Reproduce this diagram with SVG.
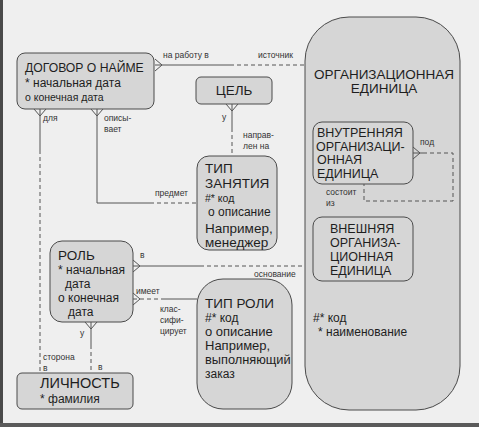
<svg xmlns="http://www.w3.org/2000/svg" width="479" height="427" viewBox="0 0 479 427">
<style>
.bg{fill:#efefef}
.ent{fill:#d6d6d6;stroke:#4a4a4a;stroke-width:1}
.t{font-family:"Liberation Sans",Arial,sans-serif;fill:#1e1e1e}
.h{font-size:13.5px}
.m{font-size:12.5px}
.a{font-size:12px}
.s{font-size:10.5px}
.l{font-size:8.5px;fill:#333}
.ln{fill:none;stroke:#555;stroke-width:1}
.d{stroke-dasharray:4 3}
</style>
<rect class="bg" x="0" y="0" width="479" height="427"/>
<rect x="0" y="0" width="3" height="427" fill="#4a4a4a"/>
<rect x="0" y="423" width="479" height="4" fill="#5a5a5a"/>

<g id="org-unit">
<rect class="ent" x="305" y="17" width="155" height="393" rx="44" ry="44"/>
<text class="t h" x="384" y="79" text-anchor="middle">ОРГАНИЗАЦИОННАЯ</text>
<text class="t h" x="384" y="93" text-anchor="middle">ЕДИНИЦА</text>
<text class="t a" x="313" y="322">#* код</text>
<text class="t a" x="318" y="336">* наименование</text>
</g>

<g id="internal-unit">
<rect class="ent" x="313" y="122" width="100" height="62" rx="9"/>
<text class="t m" x="317" y="137">ВНУТРЕННЯЯ</text>
<text class="t m" x="316" y="150.5">ОРГАНИЗАЦИ-</text>
<text class="t m" x="317" y="164">ОННАЯ</text>
<text class="t m" x="317" y="177.5">ЕДИНИЦА</text>
</g>

<g id="external-unit">
<rect class="ent" x="313" y="217" width="100" height="64" rx="9"/>
<text class="t m" x="330" y="233">ВНЕШНЯЯ</text>
<text class="t m" x="330" y="247">ОРГАНИЗА-</text>
<text class="t m" x="330" y="261">ЦИОННАЯ</text>
<text class="t m" x="330" y="275">ЕДИНИЦА</text>
</g>

<g id="contract">
<rect class="ent" x="17" y="53" width="137" height="56" rx="8"/>
<text class="t" font-size="12.2" x="25" y="72">ДОГОВОР О НАЙМЕ</text>
<text class="t a" x="25" y="87">* начальная дата</text>
<text class="t s" x="25" y="101">о конечная дата</text>
</g>

<g id="goal">
<rect class="ent" x="196" y="77" width="76" height="27" rx="5"/>
<text class="t h" x="234" y="95" text-anchor="middle">ЦЕЛЬ</text>
</g>

<g id="job-type">
<rect class="ent" x="197" y="156" width="80" height="94" rx="12"/>
<text class="t h" x="205" y="173">ТИП</text>
<text class="t h" x="205" y="188">ЗАНЯТИЯ</text>
<text class="t s" x="205" y="202">#* код</text>
<text class="t a" x="208" y="216">о описание</text>
<text class="t h" x="205" y="233">Например,</text>
<text class="t h" x="205" y="247">менеджер</text>
</g>

<g id="role">
<rect class="ent" x="50" y="241" width="83" height="81" rx="12"/>
<text class="t h" x="58" y="260">РОЛЬ</text>
<text class="t a" x="58" y="274">* начальная</text>
<text class="t a" x="65" y="288">дата</text>
<text class="t a" x="58" y="302">о конечная</text>
<text class="t a" x="68" y="316">дата</text>
</g>

<g id="role-type">
<rect class="ent" x="197" y="279" width="95" height="130" rx="26"/>
<text class="t h" x="205" y="308">ТИП РОЛИ</text>
<text class="t a" x="205" y="322">#* код</text>
<text class="t" font-size="13" x="205" y="336">о описание</text>
<text class="t" font-size="13" x="205" y="350">Например,</text>
<text class="t" font-size="12.8" x="205" y="364">выполняющий</text>
<text class="t a" x="205" y="378">заказ</text>
</g>

<g id="person">
<rect class="ent" x="17" y="373" width="116" height="36" rx="5"/>
<text class="t" font-size="14.5" x="40" y="388">ЛИЧНОСТЬ</text>
<text class="t a" x="40" y="403">* фамилия</text>
</g>

<g id="connectors">
<path class="ln" d="M155,59 L162,65 L155,71 M155,65 L230,65"/>
<path class="ln d" d="M230,65 L305,65"/>
<text class="t l" x="163" y="58">на работу в</text>
<text class="t l" x="258" y="58">источник</text>
<path class="ln" d="M34,109 L40,116 L46,109 M40,109 L40,150"/>
<path class="ln d" d="M40,150 L40,373"/>
<text class="t l" x="43" y="121">для</text>
<text class="t l" x="43" y="360">сторона</text>
<text class="t l" x="43" y="371">в</text>
<path class="ln" d="M91,109 L97,116 L103,109 M97,109 L97,203 L150,203"/>
<path class="ln d" d="M150,203 L197,203"/>
<text class="t l" x="104" y="121">описы-</text>
<text class="t l" x="104" y="132">вает</text>
<text class="t l" x="155" y="196">предмет</text>
<path class="ln" d="M226,104 L232,111 L238,104 M232,104 L232,128"/>
<path class="ln d" d="M232,128 L232,156"/>
<text class="t l" x="222" y="120">у</text>
<text class="t l" x="243" y="138">направ-</text>
<text class="t l" x="243" y="149">лен на</text>
<path class="ln" d="M413,147 L420,153 L413,159 M413,153 L423,153"/>
<path class="ln d" d="M423,153 L453,153 L453,201 L364,201 L364,184"/>
<text class="t l" x="420" y="145">под</text>
<text class="t l" x="326" y="195">состоит</text>
<text class="t l" x="326" y="206">из</text>
<path class="ln" d="M133,260 L140,266 L133,272 M133,266 L200,266"/>
<path class="ln d" d="M200,266 L305,266"/>
<text class="t l" x="140" y="258">в</text>
<text class="t l" x="254" y="277">основание</text>
<path class="ln" d="M133,293 L140,299 L133,305"/>
<path class="ln d" d="M133,299 L165,299"/>
<path class="ln" d="M165,299 L197,299"/>
<text class="t l" x="136" y="294">имеет</text>
<text class="t l" x="160" y="312">клас-</text>
<text class="t l" x="160" y="323">сифи-</text>
<text class="t l" x="160" y="334">цирует</text>
<path class="ln" d="M85,322 L91,329 L97,322 M91,322 L91,345"/>
<path class="ln d" d="M91,345 L91,373"/>
<text class="t l" x="80" y="336">у</text>
<text class="t l" x="98" y="370">в</text>
</g>
</svg>
